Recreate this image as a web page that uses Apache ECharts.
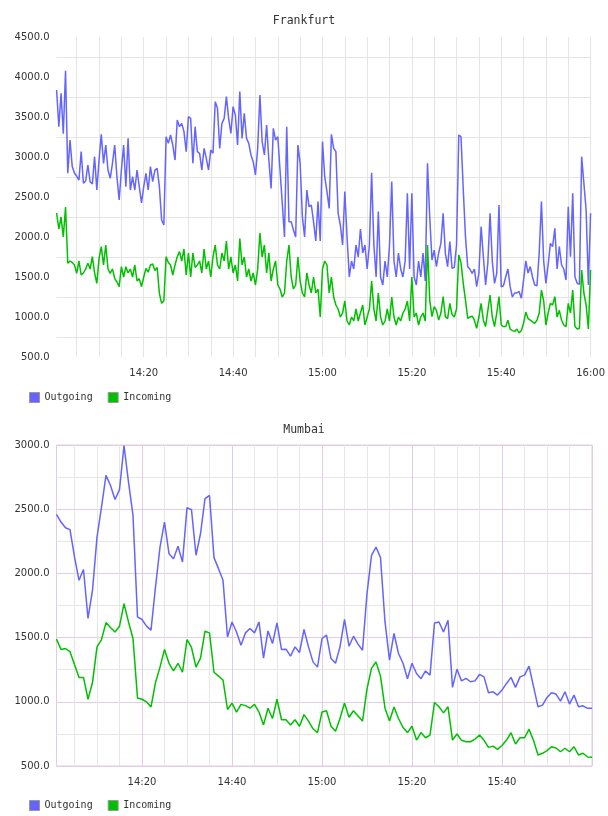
<!DOCTYPE html>
<html>
<head>
<meta charset="utf-8">
<script src="https://cdn.jsdelivr.net/npm/echarts@6/dist/echarts.min.js"></script>
<style>
  html, body { margin: 0; padding: 0; background: #fff; }
  #main { width: 608px; height: 816px; }
</style>
</head>
<body>
<div id="main"></div>
<script>
// Frankfurt: one sample every 30 s, first at 14:00:30
var frankfurtStart = 0.5;
var frankfurtStep = 0.5;
var frankfurtOut = [
  3837, 3379, 3796, 3290, 4079, 2796, 3212, 2880, 2800, 2760,
  2712, 3067, 2671, 2700, 2900, 2692, 2662, 3004, 2587, 2962,
  3283, 2921, 3150, 2837, 2733, 2921, 3150, 2754, 2462, 2837,
  3150, 2629, 3233, 2587, 2754, 2587, 2837, 2629, 2425, 2629,
  2796, 2587, 2879, 2692, 2837, 2858, 2629, 2212, 2150, 3254,
  3171, 3275, 3150, 2962, 3462, 3379, 3421, 3317, 3067, 3504,
  3483, 2921, 3379, 3067, 3046, 2837, 3108, 2983, 2837, 3087,
  3046, 3692, 3608, 3108, 3421, 3483, 3754, 3483, 3296, 3629,
  3525, 3150, 3817, 3233, 3546, 3233, 3171, 3025, 2942, 2775,
  3108, 3775, 3192, 3025, 3400, 2962, 2608, 3358, 3212, 3254,
  2837, 2421, 2000, 3379, 2192, 2192, 2087, 2000, 3150, 2921,
  2254, 2000, 2587, 2379, 2400, 2192, 1950, 2442, 1950, 3192,
  2754, 2567, 2358, 3283, 3108, 3067, 2296, 2150, 1900, 2567,
  2000, 1500, 1700, 1600, 1900, 1750, 2100, 1800, 1900, 1600,
  1900, 2804, 1900, 1500, 2317, 1500, 1400, 1700, 1500, 1900,
  2692, 1700, 1500, 1800, 1600, 1500, 1700, 2546, 1600, 2546,
  1500, 1400, 1700, 1500, 1800, 1450, 2921, 2254, 1712, 1837,
  1629, 1800, 1921, 2296, 1796, 1629, 1942, 1608, 1620, 1900,
  3275, 3254, 2600, 2004, 1629, 1596, 1546, 1600, 1379, 1550,
  2129, 1754, 1400, 1671, 2296, 1700, 1421, 1546, 2400, 1379,
  1390, 1500, 1600, 1379, 1250, 1300, 1300, 1320, 1233, 1462,
  1700, 1550, 1630, 1500, 1400, 1390, 1800, 2442, 1700, 1421,
  1650, 1921, 1880, 2108, 1600, 1879, 1650, 1600, 1462, 2379,
  1754, 2546, 1500, 1421, 1410, 3004, 2671, 2337, 1400, 2296
];
var frankfurtIn = [
  2300, 2100, 2250, 2000, 2375, 1671, 1700, 1680, 1650, 1546,
  1700, 1525, 1550, 1600, 1671, 1600, 1754, 1550, 1421, 1733,
  1880, 1650, 1900, 1600, 1546, 1600, 1483, 1437, 1379, 1629,
  1500, 1629, 1550, 1600, 1500, 1650, 1450, 1480, 1379, 1500,
  1608, 1560, 1650, 1662, 1580, 1620, 1296, 1171, 1200, 1754,
  1680, 1650, 1525, 1650, 1754, 1817, 1700, 1850, 1525, 1800,
  1500, 1800, 1620, 1650, 1700, 1550, 1850, 1600, 1700, 1500,
  1750, 1900, 1650, 1600, 1800, 1700, 1950, 1600, 1750, 1550,
  1650, 1450, 1980, 1650, 1750, 1500, 1600, 1450, 1550, 1400,
  1600, 2050, 1750, 1900, 1550, 1800, 1450, 1600, 1700, 1400,
  1350, 1250, 1300, 1700, 1900, 1500, 1350, 1400, 1750, 1450,
  1300, 1250, 1550, 1400, 1300, 1500, 1300, 1350, 1000, 1600,
  1700, 1650, 1300, 1500, 1250, 1150, 1100, 1000, 1050, 1200,
  950, 900, 1000, 950, 1100, 950, 1050, 1150, 900, 1000,
  1100, 1450, 1100, 950, 1300, 1000, 900, 950, 1100, 950,
  1250, 1000, 900, 1000, 950, 1050, 1100, 1200, 950, 1500,
  1000, 1050, 900, 1000, 1050, 950, 1900, 1212, 1004, 1129,
  1083, 962, 1050, 1254, 1004, 980, 1171, 1030, 1000, 1100,
  1775, 1680, 1421, 1212, 983, 1000, 1010, 960, 858, 1000,
  1171, 960, 880, 1080, 1275, 1000, 880, 1050, 1254, 900,
  880, 880, 960, 850, 830, 820, 850, 800, 830, 921,
  1062, 980, 960, 940, 920, 960, 1050, 1337, 1200, 900,
  1050, 1171, 1150, 1254, 1000, 1083, 960, 900, 880, 1171,
  1050, 1337, 880, 850, 860, 1587, 1300, 1150, 850, 1587
];

// Mumbai: one sample per minute, first at 14:01
var mumbaiStart = 1;
var mumbaiStep = 1;
var mumbaiOut = [
  2460, 2400, 2356, 2341, 2128, 1946, 2030, 1649, 1869, 2283,
  2516, 2763, 2685, 2576, 2652, 2996, 2711, 2452, 1661, 1641,
  1589, 1558, 1894, 2205, 2400, 2154, 2115, 2211, 2089, 2512,
  2496, 2141, 2309, 2582, 2607, 2123, 2037, 1946, 1505, 1622,
  1544, 1441, 1537, 1571, 1537, 1622, 1340, 1552, 1454, 1614,
  1407, 1410, 1355, 1428, 1384, 1563, 1428, 1311, 1270, 1493,
  1519, 1337, 1300, 1428, 1641, 1433, 1511, 1449, 1402, 1843,
  2141, 2205, 2123, 1622, 1324, 1532, 1376, 1300, 1180, 1300,
  1220, 1180, 1240, 1208, 1614, 1622, 1544, 1635, 1112, 1254,
  1163, 1182, 1156, 1163, 1213, 1194, 1070, 1078, 1052, 1091,
  1143, 1190, 1112, 1194, 1208, 1278, 1120, 961, 974, 1034,
  1070, 1060, 1005, 1078, 982, 1052, 961, 969, 949, 949
];
var mumbaiIn = [
  1488, 1407, 1415, 1390, 1290, 1190, 1190, 1020, 1150, 1428,
  1485, 1617, 1578, 1544, 1589, 1765, 1622, 1493, 1030, 1020,
  1000, 960, 1150, 1270, 1407, 1300, 1240, 1300, 1230, 1485,
  1423, 1270, 1340, 1550, 1537, 1230, 1200, 1170, 940, 990,
  920, 980, 970, 950, 980, 920, 820, 950, 870, 1020,
  860, 860, 820, 860, 810, 900, 850, 790, 760, 920,
  930, 810, 770, 870, 990, 880, 930, 890, 850, 1100,
  1260, 1310, 1200, 950, 850, 960, 870, 800, 760, 810,
  702, 760, 720, 741, 995, 961, 914, 961, 702, 749,
  700, 689, 689, 710, 741, 700, 645, 655, 630, 660,
  702, 759, 671, 720, 720, 785, 700, 586, 599, 620,
  650, 640, 611, 638, 611, 650, 586, 599, 570, 568
];

var seriesNames = ['Outgoing', 'Incoming'];
var seriesColors = ['#6464ff', '#00c000'];
var gridTicks = [5, 10, 15, 20, 25, 30, 35, 40, 45, 50, 55, 60, 65, 70, 75, 80, 85, 90, 95, 100, 105, 110, 115, 120];
var frankfurtLabels = [20, 40, 60, 80, 100, 120];
var mumbaiLabels = [20, 40, 60, 80, 100];

function withTime(values, start, step) {
    return values.map(function (v, i) { return [start + i * step, v]; });
}

function clock(m) {
    var h = 14 + Math.floor(m / 60);
    var mm = Math.round(m % 60);
    return h + ':' + (mm < 10 ? '0' + mm : mm);
}

function yLabel(v) {
    return v % 500 === 0 ? v.toFixed(1) : '';
}

var tickFont = { fontFamily: 'DejaVu Sans', fontSize: 10, color: '#333' };
var monoFont = 'DejaVu Sans Mono';

var chartDom = document.getElementById('main');
var myChart = echarts.init(chartDom);

var option = {
    animation: false,
    color: seriesColors,
    title: [
        { text: 'Frankfurt', left: 'center', top: 10, textStyle: { fontFamily: monoFont, fontSize: 11.5, fontWeight: 'normal', color: '#333' } },
        { text: 'Mumbai', left: 'center', top: 419, textStyle: { fontFamily: monoFont, fontSize: 11.5, fontWeight: 'normal', color: '#333' } }
    ],
    legend: [
        {
            data: seriesNames, left: 24, top: 387, icon: 'rect', itemWidth: 10, itemHeight: 10, itemGap: 15,
            itemStyle: { borderColor: '#999', borderWidth: 1 },
            textStyle: { fontFamily: monoFont, fontSize: 10, color: '#333' }
        },
        {
            data: seriesNames, left: 24, top: 795, icon: 'rect', itemWidth: 10, itemHeight: 10, itemGap: 15,
            itemStyle: { borderColor: '#999', borderWidth: 1 },
            textStyle: { fontFamily: monoFont, fontSize: 10, color: '#333' }
        }
    ],
    grid: [
        { left: 56.6, right: 16, top: 37, height: 320, show: false },
        { left: 56.5, right: 16, top: 445, height: 321, show: true, borderColor: '#e2cce2', borderWidth: 1 }
    ],
    xAxis: [
        {
            type: 'value', gridIndex: 0, min: 0.5, max: 120,
            axisLine: { show: false },
            axisTick: { show: false, customValues: gridTicks },
            axisLabel: Object.assign({ customValues: frankfurtLabels, formatter: clock, margin: 11 }, tickFont),
            splitLine: { show: true, lineStyle: { color: '#e4e4e4', width: 1 } }
        },
        {
            type: 'value', gridIndex: 1, min: 1, max: 120,
            axisLine: { show: false },
            axisTick: { show: false, customValues: gridTicks },
            axisLabel: Object.assign({ customValues: mumbaiLabels, formatter: clock, margin: 11 }, tickFont),
            splitLine: { show: true, lineStyle: { color: ['#e6e6e6', '#e6e6e6', '#e6e6e6', '#e2cce2'], width: 1 } }
        }
    ],
    yAxis: [
        {
            type: 'value', gridIndex: 0, min: 500, max: 4500, interval: 250,
            axisLine: { show: false }, axisTick: { show: false },
            axisLabel: Object.assign({ formatter: yLabel, margin: 7 }, tickFont),
            splitLine: { show: true, lineStyle: { color: ['rgba(0,0,0,0)', '#e4e4e4'], width: 1 } }
        },
        {
            type: 'value', gridIndex: 1, min: 500, max: 3000, interval: 250,
            axisLine: { show: false }, axisTick: { show: false },
            axisLabel: Object.assign({ formatter: yLabel, margin: 7 }, tickFont),
            splitLine: { show: true, lineStyle: { color: ['#e2cce2', '#e6e6e6'], width: 1 } }
        }
    ],
    series: [
        {
            name: 'Outgoing', type: 'line', xAxisIndex: 0, yAxisIndex: 0, showSymbol: false,
            lineStyle: { width: 1.5, color: seriesColors[0] },
            data: withTime(frankfurtOut, frankfurtStart, frankfurtStep)
        },
        {
            name: 'Incoming', type: 'line', xAxisIndex: 0, yAxisIndex: 0, showSymbol: false,
            lineStyle: { width: 1.5, color: seriesColors[1] },
            data: withTime(frankfurtIn, frankfurtStart, frankfurtStep)
        },
        {
            name: 'Outgoing', type: 'line', xAxisIndex: 1, yAxisIndex: 1, showSymbol: false,
            lineStyle: { width: 1.5, color: seriesColors[0] },
            data: withTime(mumbaiOut, mumbaiStart, mumbaiStep)
        },
        {
            name: 'Incoming', type: 'line', xAxisIndex: 1, yAxisIndex: 1, showSymbol: false,
            lineStyle: { width: 1.5, color: seriesColors[1] },
            data: withTime(mumbaiIn, mumbaiStart, mumbaiStep)
        }
    ]
};

option && myChart.setOption(option);
</script>
</body>
</html>
